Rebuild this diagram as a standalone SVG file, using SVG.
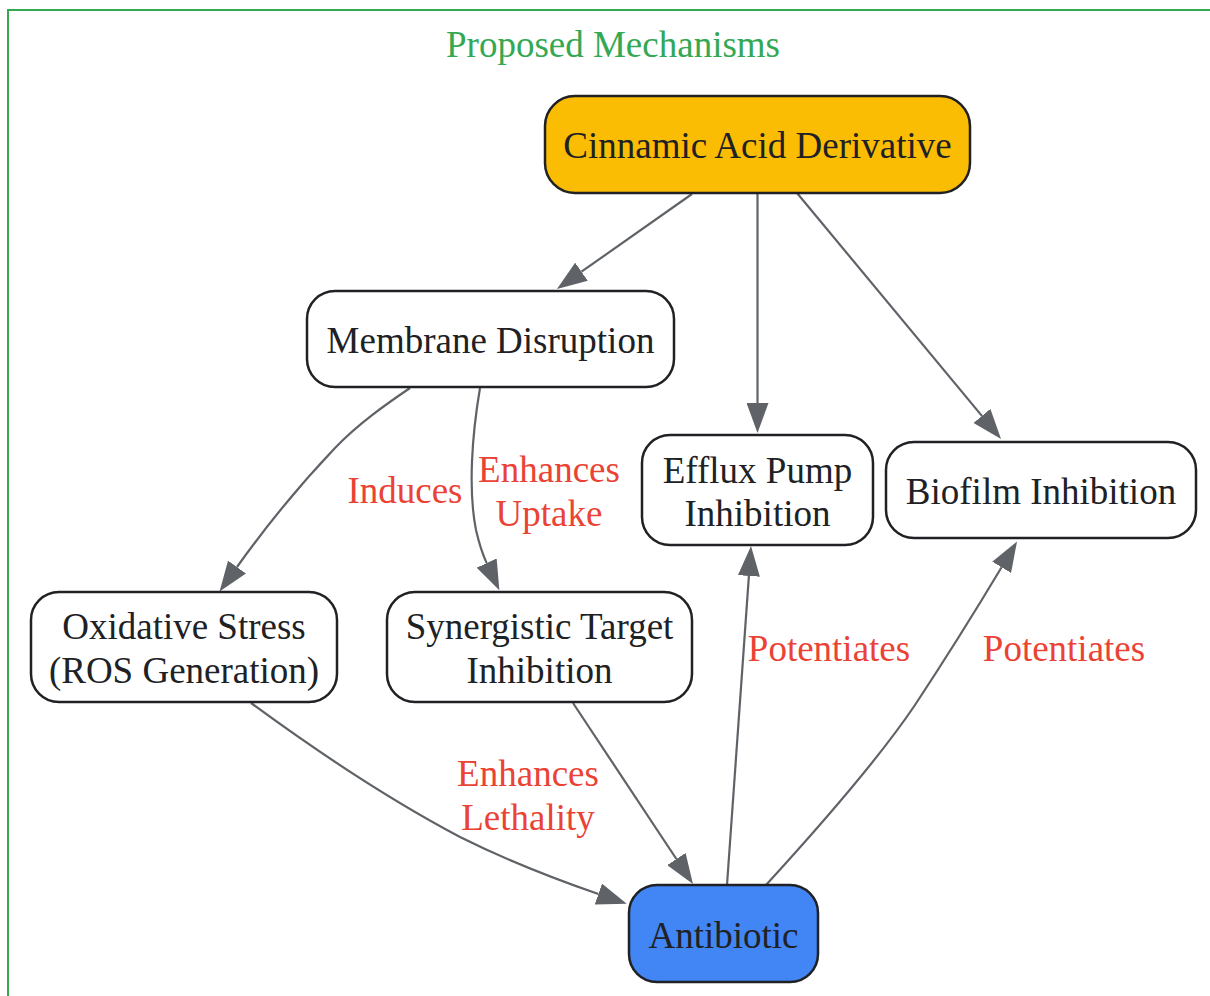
<svg xmlns="http://www.w3.org/2000/svg" width="1210" height="996" viewBox="0 0 1210 996">
<style>
text{font-family:"Liberation Serif","Times New Roman",serif;font-size:37px;text-anchor:middle}
.node rect{stroke:#202124;stroke-width:2.5}
.node text{fill:#202124}
.edge path{fill:none;stroke:#5F6368;stroke-width:2.2}
.lbl{fill:#EA4335}
.title{fill:#34A853}
</style>
<defs>
<marker id="ah" markerWidth="30" markerHeight="22" refX="0" refY="11" orient="auto" markerUnits="userSpaceOnUse">
<path d="M0,0 L30,11 L0,22 z" fill="#5F6368"/>
</marker>
</defs>
<rect width="1210" height="996" fill="#ffffff"/>
<g id="cluster">
<rect x="8" y="10" width="1220" height="1010" fill="none" stroke="#34A853" stroke-width="2"/>
<text class="title" x="613" y="57">Proposed Mechanisms</text>
</g>
<g id="connectors" class="edge">
<path d="M692,194 L581.5,271.7" marker-end="url(#ah)"/>
<path d="M757.5,193 L757.5,403" marker-end="url(#ah)"/>
<path d="M797,193 L981.9,415.9" marker-end="url(#ah)"/>
<path d="M410,388 C385,405 358,424 335,448 C295,490 262,532 237,567" marker-end="url(#ah)"/>
<path d="M480,388 C472,435 468,490 476,530 C479,543 482,553 486.7,563.1" marker-end="url(#ah)"/>
<path d="M251,703 C315,750 390,800 460,837 C510,862 555,879 598.4,894" marker-end="url(#ah)"/>
<path d="M573,703 L676.4,859" marker-end="url(#ah)"/>
<path d="M727,885 L748.9,575.9" marker-end="url(#ah)"/>
<path d="M766,885 C820,826 880,757 915,705 C950,652 982,600 1001.6,567.3" marker-end="url(#ah)"/>
<text class="lbl" x="405" y="503">Induces</text>
<text class="lbl" x="549" y="482">Enhances</text>
<text class="lbl" x="549" y="526">Uptake</text>
<text class="lbl" x="528" y="786">Enhances</text>
<text class="lbl" x="528" y="830">Lethality</text>
<text class="lbl" x="829" y="661">Potentiates</text>
<text class="lbl" x="1064" y="661">Potentiates</text>
</g>
<g id="n_cinnamic" class="node">
<rect x="545" y="96" width="425" height="97" rx="30" fill="#FBBC04"/>
<text x="757.5" y="158">Cinnamic Acid Derivative</text>
</g>
<g id="n_membrane" class="node">
<rect x="307" y="291" width="367" height="96" rx="28" fill="#ffffff"/>
<text x="490.5" y="353">Membrane Disruption</text>
</g>
<g id="n_efflux" class="node">
<rect x="642" y="435" width="231" height="110" rx="28" fill="#ffffff"/>
<text x="757.5" y="483">Efflux Pump</text>
<text x="757.5" y="526">Inhibition</text>
</g>
<g id="n_biofilm" class="node">
<rect x="886" y="442" width="310" height="96" rx="28" fill="#ffffff"/>
<text x="1041" y="504">Biofilm Inhibition</text>
</g>
<g id="n_oxidative" class="node">
<rect x="31" y="592" width="306" height="110" rx="28" fill="#ffffff"/>
<text x="184" y="639">Oxidative Stress</text>
<text x="184" y="683">(ROS Generation)</text>
</g>
<g id="n_synergistic" class="node">
<rect x="387" y="592" width="305" height="110" rx="28" fill="#ffffff"/>
<text x="539.5" y="639">Synergistic Target</text>
<text x="539.5" y="683">Inhibition</text>
</g>
<g id="n_antibiotic" class="node">
<rect x="629" y="885" width="189" height="97" rx="28" fill="#4285F4"/>
<text x="723.5" y="948">Antibiotic</text>
</g>
</svg>
